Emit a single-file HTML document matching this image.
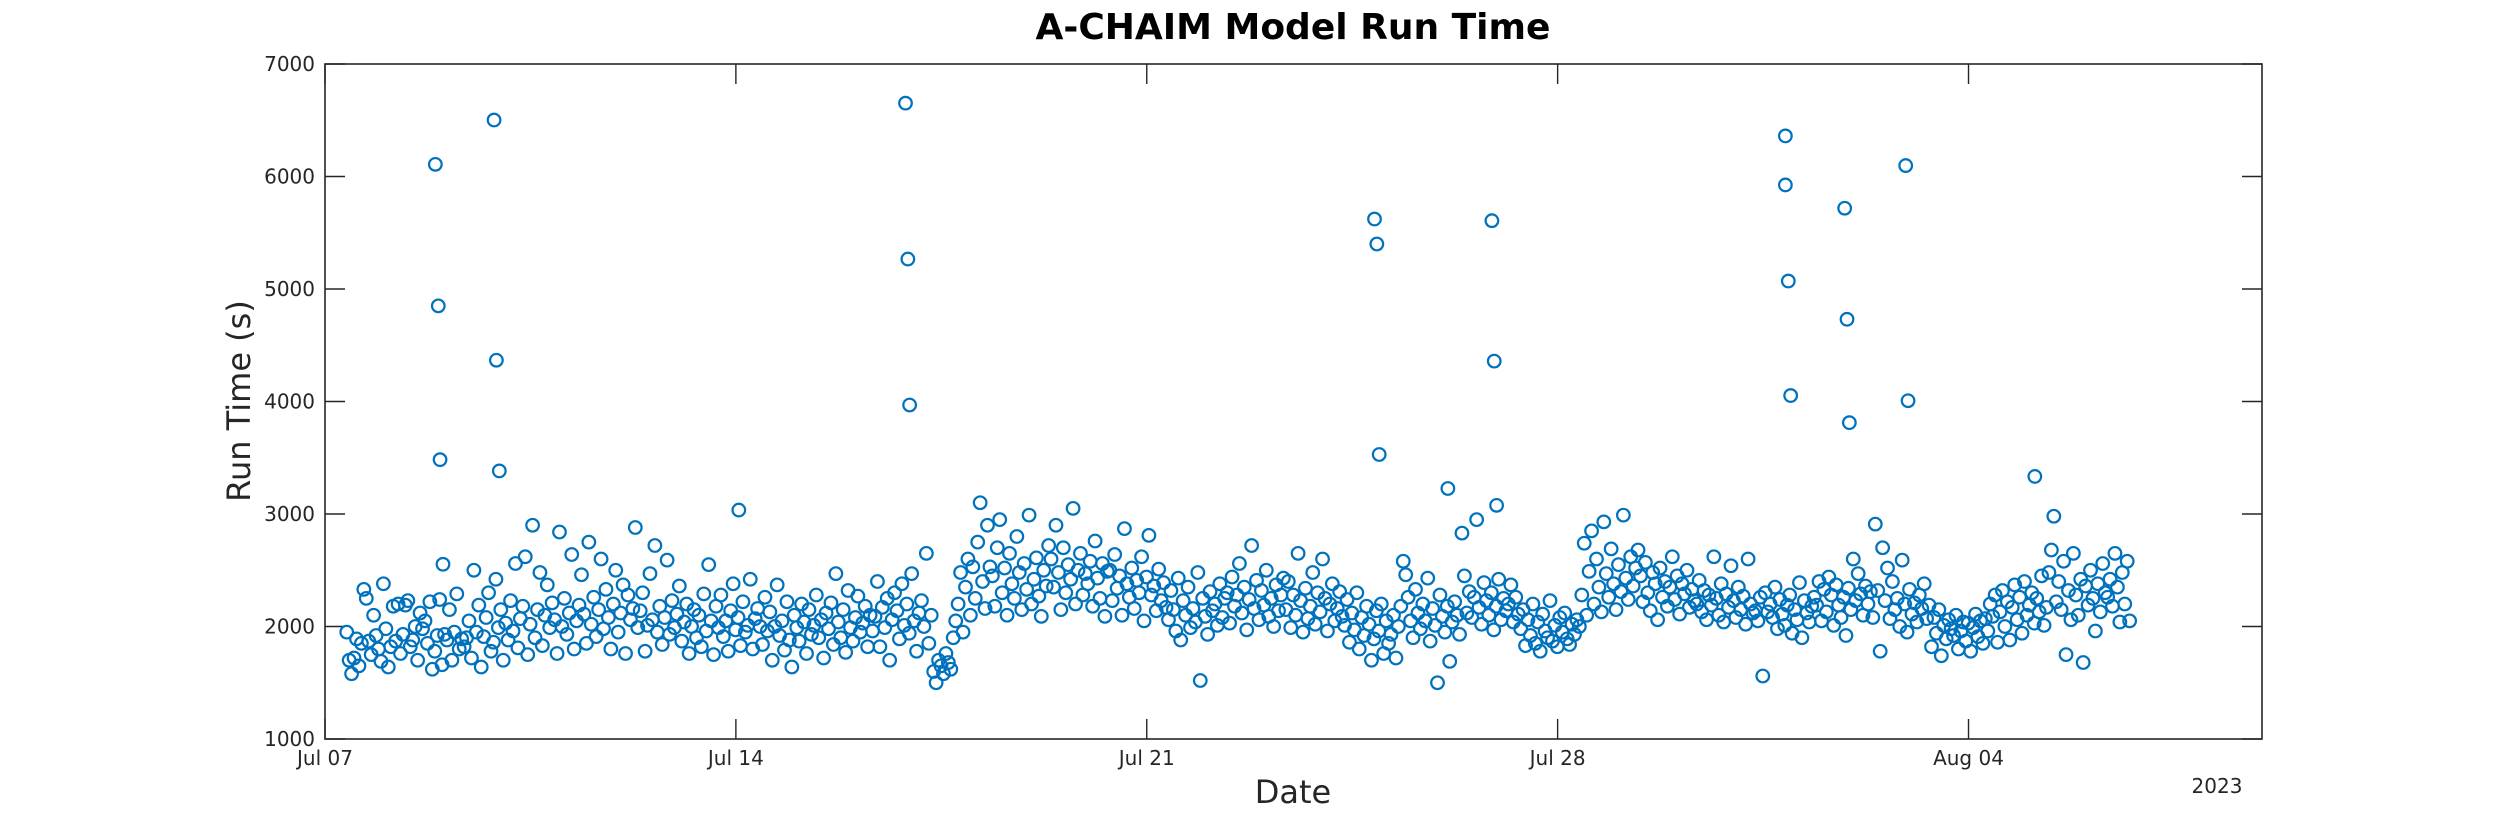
<!DOCTYPE html>
<html><head><meta charset="utf-8"><style>
html,body{margin:0;padding:0;background:#fff;}
svg{display:block;font-family:"DejaVu Sans","Liberation Sans",sans-serif;}
</style></head><body>
<svg id="chart" width="2500" height="833" viewBox="0 0 2500 833">
<rect x="0" y="0" width="2500" height="833" fill="#fff"/>
<text x="1293" y="39" text-anchor="middle" font-size="36" font-weight="bold" fill="#000">A-CHAIM Model Run Time</text>
<text transform="translate(250,401) rotate(-90)" text-anchor="middle" font-size="32" fill="#262626">Run Time (s)</text>
<text x="1293" y="803" text-anchor="middle" font-size="32" fill="#262626">Date</text>
<text x="2217" y="793" text-anchor="middle" font-size="20" fill="#262626">2023</text>
<g id="axes"></g>
<g id="marks"></g>
</svg>
<script>
const yTicks = [1000,2000,3000,4000,5000,6000,7000];
const xTickDays = [0,7,14,21,28];
const xTickLabels = ["Jul 07","Jul 14","Jul 21","Jul 28","Aug 04"];
const startDay = 0.37;
const stepDay = 1/24;
const runTimes = [
1950,1700,1580,1720,1890,1650,1850,2330,2250,1870,1750,2100,1920,1800,1690,2380,1980,1640,1820,2180,1870,2200,1760,1930,
2190,2230,1820,1880,2000,1700,2120,1980,2050,1850,2220,1620,1780,1920,2240,1660,1930,1880,2150,1700,1950,2290,1800,1890,
1820,1900,2050,1720,2500,1950,2190,1640,1910,2080,2300,1780,1860,2420,1990,2150,1700,2030,1880,2230,1960,2560,1810,2070,
2180,2620,1750,2020,2900,1900,2150,2480,1830,2100,2370,1990,2210,2060,1760,2840,2000,2250,1930,2120,2640,1800,2050,2190,
2460,2110,1850,2750,2020,2260,1910,2150,2600,1980,2330,2080,1800,2200,2500,1950,2120,2370,1760,2280,2060,2160,2880,1990,
2140,2300,1780,2010,2470,2060,2720,1950,2180,1840,2080,2590,1930,2230,1990,2110,2360,1870,2040,2200,1760,2000,2150,1900,
2100,1820,2290,1960,2550,2050,1750,2180,1990,2280,1910,2050,1780,2140,2380,1970,2080,1830,2220,1950,2010,2420,1800,2070,
2160,2000,1840,2260,1960,2130,1700,2000,2370,1920,2050,1790,2220,1880,1640,2100,1990,1870,2200,2040,1760,2150,1930,2010,
2280,1900,2060,1720,2120,1980,2210,1840,2470,2040,1900,2150,1770,2320,1990,1870,2080,2270,1950,2030,2180,1820,2100,1960,
2090,2400,1820,2170,1990,2250,1700,2060,2300,2140,1890,2380,2010,2200,1940,2470,2050,1780,2120,2230,2000,2650,1850,2100,
1600,1500,1700,1650,1580,1760,1680,1620,1900,2050,2200,2480,1950,2350,2600,2100,2530,2250,2750,3100,2400,2160,2900,2530,
2450,2180,2700,2950,2300,2520,2100,2650,2380,2250,2800,2480,2150,2560,2330,2990,2200,2420,2610,2270,2090,2500,2360,2720,
2600,2350,2900,2480,2150,2700,2300,2550,2420,3050,2200,2500,2650,2280,2470,2380,2580,2180,2760,2430,2250,2560,2090,2490,
2500,2230,2640,2340,2450,2100,2870,2380,2260,2520,2160,2410,2300,2620,2050,2440,2810,2280,2360,2140,2510,2230,2390,2170,
2060,2320,2150,1960,2430,1880,2230,2100,2350,1990,2160,2040,2480,1520,2250,2090,1930,2310,2140,2200,2010,2380,2080,2250,
2300,2030,2440,2180,2280,2560,2120,2350,1970,2240,2720,2160,2410,2060,2320,2190,2500,2090,2250,2000,2370,2140,2280,2430,
2150,2400,1990,2280,2100,2650,2230,1950,2340,2070,2180,2480,2020,2300,2130,2600,2250,1960,2200,2380,2050,2160,2310,2090,
2010,2240,1860,2120,1970,2300,1800,2080,1920,2180,2020,1700,1890,2140,1960,2200,1760,2050,1850,1930,2100,1720,2000,2180,
2580,2460,2260,2050,1900,2330,2120,1980,2200,2050,2430,1870,2160,2010,1500,2280,2090,1950,2180,1690,2040,2220,2100,1930,
2830,2450,2120,2310,2080,2260,2950,2170,2020,2390,2230,2100,2300,1970,2180,2420,2060,2250,2140,2200,2370,2040,2260,2110,
1980,2150,1830,2060,1920,2200,1850,2040,1780,2110,1960,1900,2230,1870,2010,1820,2080,1950,2120,1890,1840,2020,1930,2060,
2000,2280,2740,2100,2490,2850,2200,2600,2350,2130,2930,2470,2260,2690,2380,2150,2550,2310,2990,2430,2240,2620,2360,2520,
2680,2450,2220,2570,2300,2140,2480,2380,2060,2520,2260,2400,2180,2350,2620,2240,2450,2110,2380,2290,2500,2170,2330,2230,
2200,2410,2130,2320,2060,2280,2190,2620,2250,2100,2380,2040,2290,2170,2540,2230,2080,2350,2150,2270,2020,2600,2200,2120,
2140,2050,2260,1560,2300,2130,2200,2080,2350,1980,2240,2110,2010,2190,2280,1940,2150,2060,2390,1900,2230,2120,2040,2180,
2260,2190,2400,2050,2330,2130,2440,2280,2010,2370,2190,2080,2260,1920,2340,2150,2600,2230,2470,2290,2100,2360,2200,2310,
2080,2910,2320,1780,2700,2230,2520,2070,2400,2150,2250,2000,2590,2200,1950,2330,2110,2210,2040,2280,2160,2380,2070,2190,
1820,2080,1940,2150,1740,2010,1890,2060,1980,1920,2100,1800,1960,2040,1870,2030,1780,1990,2110,1910,2050,1850,2070,1960,
2200,2090,2280,1860,2130,2320,2000,2220,1880,2170,2370,2060,2260,1940,2400,2100,2190,2300,2030,2250,2130,2450,2010,2170,
2480,2680,2980,2220,2400,2150,2580,1750,2320,2060,2650,2280,2100,2420,1680,2360,2190,2500,2250,1960,2380,2130,2560,2300,
2260,2420,2180,2650,2350,2040,2480,2200,2580,2050
];
const outlierDays = [1.88,1.93,1.96,2.01,2.88,2.92,2.97,7.05,9.89,9.93,9.96,17.88,17.92,17.96,19.13,19.88,19.92,19.96,24.88,24.88,24.93,24.97,25.89,25.93,25.97,26.93,26.97,29.13];
const outlierValues = [6108,4850,3483,2553,6502,4367,3383,3035,6652,5266,3969,5622,5400,3529,3227,5607,4359,3077,6361,5925,5071,4053,5718,4731,3812,6097,4007,3334];

const PL=325, PR=2262, PT=64, PB=739;
const DAY_MIN=0, DAY_MAX=33, V_MIN=1000, V_MAX=7000;
function xScale(d){return PL+(d-DAY_MIN)/(DAY_MAX-DAY_MIN)*(PR-PL);}
function yScale(v){return PB-(v-V_MIN)/(V_MAX-V_MIN)*(PB-PT);}
const NS="http://www.w3.org/2000/svg";
const axes=document.getElementById('axes');
const marks=document.getElementById('marks');
function mk(tag,attrs,parent){const e=document.createElementNS(NS,tag);for(const k in attrs)e.setAttribute(k,attrs[k]);parent.appendChild(e);return e;}

const box=mk('rect',{x:PL,y:PT,width:PR-PL,height:PB-PT,fill:'none',stroke:'#262626','stroke-width':1.6},axes);



yTicks.forEach(function(v){
  const y=yScale(v);
  const t1=mk('line',{x1:PL,x2:PL+20,y1:y,y2:y,stroke:'#262626','stroke-width':1.4},axes);
  
  
  const t2=mk('line',{x1:PR-20,x2:PR,y1:y,y2:y,stroke:'#262626','stroke-width':1.4},axes);
  
  
  const lb=mk('text',{x:PL-10,y:y+7,'text-anchor':'end','font-size':20,fill:'#262626'},axes);
  lb.textContent=v;
  
  
});
xTickDays.forEach(function(d,i){
  const x=xScale(d);
  const t1=mk('line',{x1:x,x2:x,y1:PB,y2:PB-20,stroke:'#262626','stroke-width':1.4},axes);
  
  
  const t2=mk('line',{x1:x,x2:x,y1:PT,y2:PT+20,stroke:'#262626','stroke-width':1.4},axes);
  
  
  const lb=mk('text',{x:x,y:PB+26,'text-anchor':'middle','font-size':20,fill:'#262626'},axes);
  lb.textContent=xTickLabels[i];
  
  
});

function point(d,v){
  const c=mk('circle',{cx:xScale(d),cy:yScale(v),r:6.3,fill:'none',stroke:'#0072BD','stroke-width':2.2},marks);
  
  
}
runTimes.forEach(function(v,i){point(startDay+i*stepDay,v);});
outlierDays.forEach(function(d,i){point(d,outlierValues[i]);});
</script>
</body></html>
